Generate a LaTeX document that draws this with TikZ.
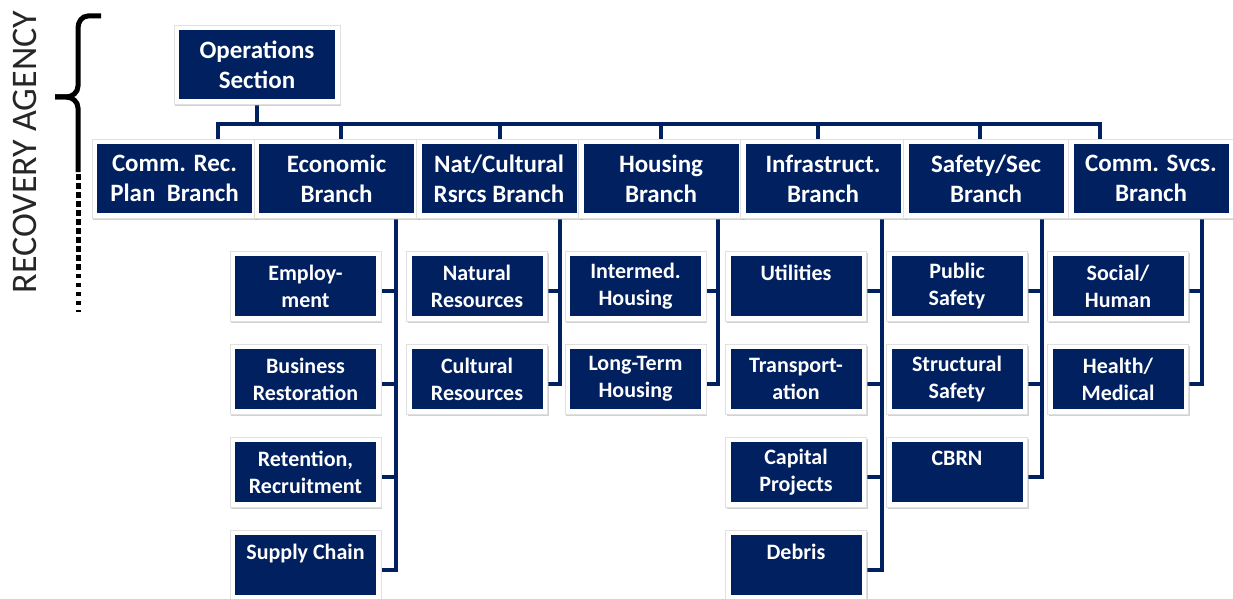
\documentclass[tikz,border=0pt]{standalone}
\usepackage{fontspec}
\setmainfont{Carlito}
\usetikzlibrary{shadows,backgrounds}
\definecolor{opsblue}{RGB}{0,32,96}
\tikzset{
  box/.style={fill=white, draw=black!12, line width=0.6pt, inner sep=0pt,
    drop shadow={shadow xshift=1pt, shadow yshift=-2pt, fill=black!35, opacity=0.5},
    text=white, align=center,
    path picture={\fill[opsblue] ([xshift=5pt,yshift=5pt]path picture bounding box.south west)
      rectangle ([xshift=-5pt,yshift=-5pt]path picture bounding box.north east);}},
  branch/.style={box, minimum width=165pt, minimum height=79pt, font=\bfseries\fontsize{25}{30}\selectfont},
  unit/.style={box, minimum width=141pt, minimum height=70pt, font=\bfseries\fontsize{22}{27}\selectfont},
  link/.style={opsblue, line width=4pt},
  bracket/.style={black, line width=5pt},
}
\begin{document}
\begin{tikzpicture}[x=1pt, y=-1pt]
  \useasboundingbox (0,0) rectangle (1233,599);

  % agency bracket
  \node[rotate=90, font=\fontsize{36}{42}\selectfont, text=black!85] (agency) at (25,152) {RECOVERY AGENCY};
  \draw[bracket] (101,16) -- (88,16) to[out=180,in=90] (78,28) -- (78,86) to[out=-90,in=0] (66,97) -- (55,97);
  \draw[bracket] (55,97) -- (66,97) to[out=0,in=90] (78,108) -- (78,172);
  \draw[bracket, dash pattern=on 6pt off 3pt] (78,174) -- (78,272);
  \draw[bracket, dash pattern=on 4pt off 5pt] (78,274) -- (78,312);

  % section and branches
  \node[branch, minimum width=166pt] (ops) at (257,64.5) {Operations\\Section};
  \node[branch] (plan) at (174.5,178.5) {Comm. Rec.\\Plan\ \ Branch};
  \node[branch] (econ) at (336.5,178.5) {Economic\\Branch};
  \node[branch] (nat) at (499,178.5) {Nat/Cultural\\Rsrcs Branch};
  \node[branch] (hous) at (661,178.5) {Housing\\Branch};
  \node[branch] (infra) at (823,178.5) {Infrastruct.\\Branch};
  \node[branch] (safe) at (986,178.5) {Safety/Sec\\Branch};
  \node[branch] (svcs) at (1151,178.5) {Comm. Svcs.\\Branch};

  % units
  \node[unit, minimum width=151pt] (emp) at (305.5,286) {Employ-\\ment};
  \node[unit, minimum width=151pt] (bus) at (305.5,379) {Business\\Restoration};
  \node[unit, minimum width=151pt] (ret) at (305.5,472) {Retention,\\Recruitment};
  \node[unit, minimum width=151pt] (sup) at (305.5,565) {Supply Chain\\\mbox{}};
  \node[unit] (natres) at (477,286) {Natural\\Resources};
  \node[unit] (culres) at (477,379) {Cultural\\Resources};
  \node[unit] (inter) at (635.5,286) {Intermed.\\Housing};
  \node[unit] (long) at (635.5,379) {Long-Term\\Housing};
  \node[unit] (util) at (796,286) {Utilities\\\mbox{}};
  \node[unit] (trans) at (796,379) {Transport-\\ation};
  \node[unit] (cap) at (796,472) {Capital\\Projects};
  \node[unit] (deb) at (796,565) {Debris\\\mbox{}};
  \node[unit] (pub) at (957,286) {Public\\Safety};
  \node[unit] (struct) at (957,379) {Structural\\Safety};
  \node[unit] (cbrn) at (957,472) {CBRN\\\mbox{}};
  \node[unit] (soc) at (1118,286) {Social/\\Human};
  \node[unit] (health) at (1118,379) {Health/\\Medical};

  % column tops
  \coordinate (busline) at (217,124);
  \coordinate (econtop) at (396,213);
  \coordinate (nattop) at (560,213);
  \coordinate (houstop) at (718,213);
  \coordinate (infratop) at (882,213);
  \coordinate (safetop) at (1042,213);
  \coordinate (svcstop) at (1202,213);

  \begin{scope}[on background layer]
    \draw[link] ([xshift=43pt]plan.north) |- ([xshift=-51pt]svcs.north |- busline) -- ([xshift=-51pt]svcs.north);
    \draw[link] (ops.south) |- (busline);
    \foreach \b/\dx in {econ/4, nat/1, hous/0, infra/-5, safe/-6}
      \draw[link] ([xshift=\dx pt]\b.north) |- (busline);
    \foreach \u in {emp, bus, ret, sup}
      \draw[link] ([yshift=-5pt]\u.east) -| (econtop);
    \foreach \u in {natres, culres}
      \draw[link] ([yshift=-5pt]\u.east) -| (nattop);
    \foreach \u in {inter, long}
      \draw[link] ([yshift=-5pt]\u.east) -| (houstop);
    \foreach \u in {util, trans, cap, deb}
      \draw[link] ([yshift=-5pt]\u.east) -| (infratop);
    \foreach \u in {pub, struct, cbrn}
      \draw[link] ([yshift=-5pt]\u.east) -| (safetop);
    \foreach \u in {soc, health}
      \draw[link] ([yshift=-5pt]\u.east) -| (svcstop);
  \end{scope}
\end{tikzpicture}
\end{document}
